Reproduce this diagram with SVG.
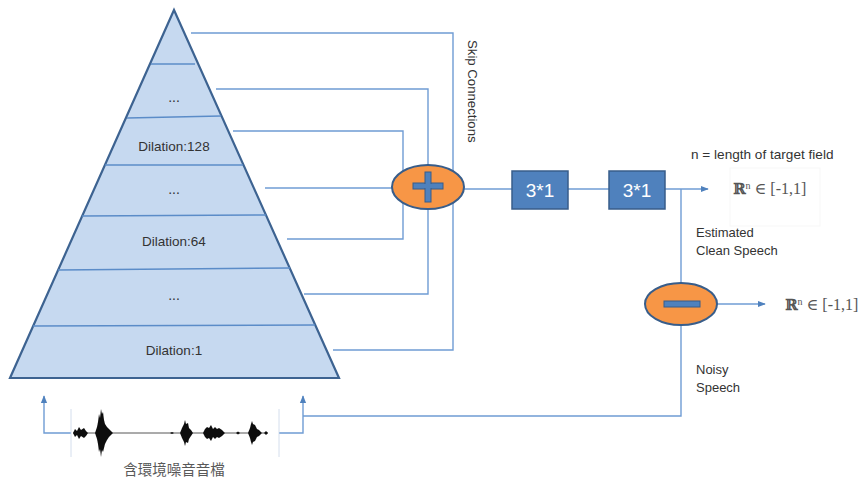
<svg xmlns="http://www.w3.org/2000/svg" width="865" height="479" viewBox="0 0 865 479">
<style>
.conn{fill:none;stroke:#6f9cd4;stroke-width:1.4}
.div{stroke:#5b8cc8;stroke-width:1.5}
.lbl{font-family:"Liberation Sans","DejaVu Sans",sans-serif;fill:#333333}
.box{fill:#4f81bd;stroke:#385d8a;stroke-width:1.5}
.boxt{font-family:"Liberation Sans",sans-serif;font-size:19px;fill:#ffffff;text-anchor:middle}
.op{fill:#f79646;stroke:#385d8a;stroke-width:2}
.opbar{fill:#4f81bd;stroke:#385d8a;stroke-width:1}
.math{font-family:"Liberation Serif","DejaVu Serif",serif;font-size:16px;fill:#555555}
.bb{font-family:"DejaVu Serif",serif;font-weight:bold;font-size:15px}
</style>
<defs>
<marker id="ah" viewBox="0 0 10 10" refX="9" refY="5" markerWidth="8" markerHeight="8" markerUnits="userSpaceOnUse" orient="auto">
<path d="M0,1 L10,5 L0,9 Z" fill="#4f81bd"/>
</marker>
<filter id="soft"><feGaussianBlur stdDeviation="0.5"/></filter>
</defs>
<rect width="865" height="479" fill="#ffffff"/>

<g id="connectors">
<polyline class="conn" points="191,33 453,33 453,350 333,350"/>
<polyline class="conn" points="216,89 428,89 428,180"/>
<polyline class="conn" points="428,200 428,294 304,294"/>
<polyline class="conn" points="233,131 403,131 403,180"/>
<polyline class="conn" points="403,200 403,239 287,239"/>
<polyline class="conn" points="265,188 400,188"/>
<line class="conn" x1="464" y1="189" x2="512" y2="189"/>
<line class="conn" x1="568" y1="189" x2="609" y2="189"/>
<line class="conn" x1="665" y1="189" x2="708" y2="189" marker-end="url(#ah)"/>
<line class="conn" x1="681" y1="189" x2="681" y2="284"/>
<line class="conn" x1="717" y1="304" x2="765" y2="304" marker-end="url(#ah)"/>
<polyline class="conn" points="681,325 681,416 303,416"/>
<polyline class="conn" points="279,433 303,433 303,396" marker-end="url(#ah)"/>
<polyline class="conn" points="71,433 44,433 44,396" marker-end="url(#ah)"/>
</g>

<g id="pyramid">
<polygon points="174,10 339,378 10,378" fill="#c6d9f0" stroke="#3d6391" stroke-width="2.2" stroke-linejoin="miter"/>
<line class="div" x1="151" y1="64" x2="195" y2="64"/>
<line class="div" x1="127" y1="118" x2="221" y2="116"/>
<line class="div" x1="105" y1="165" x2="243" y2="165"/>
<line class="div" x1="82" y1="216" x2="266" y2="215"/>
<line class="div" x1="58" y1="270" x2="290" y2="268"/>
<line class="div" x1="33" y1="326" x2="315" y2="325"/>
<text class="lbl" x="174" y="102" font-size="14" text-anchor="middle">...</text>
<text class="lbl" x="174" y="151" font-size="13.5" text-anchor="middle">Dilation:128</text>
<text class="lbl" x="174" y="194" font-size="14" text-anchor="middle">...</text>
<text class="lbl" x="174" y="246" font-size="13.5" text-anchor="middle">Dilation:64</text>
<text class="lbl" x="174" y="300" font-size="14" text-anchor="middle">...</text>
<text class="lbl" x="174" y="355" font-size="13.5" text-anchor="middle">Dilation:1</text>
</g>

<g id="skip-label">
<text class="lbl" x="468" y="40" font-size="13.2" transform="rotate(90 468 40)">Skip Connections</text>
</g>

<g id="sum">
<ellipse class="op" cx="428" cy="187" rx="36" ry="22"/>
<rect class="opbar" x="413" y="183" width="30" height="6"/>
<rect class="opbar" x="425" y="172" width="6" height="30"/>
<rect x="414" y="184" width="28" height="4" fill="#4f81bd"/>
</g>

<g id="conv1">
<rect class="box" x="512" y="171" width="56" height="38"/>
<text class="boxt" x="540" y="197">3*1</text>
</g>
<g id="conv2">
<rect class="box" x="609" y="171" width="56" height="38"/>
<text class="boxt" x="637" y="197">3*1</text>
</g>

<g id="target-label">
<text class="lbl" x="691" y="159" font-size="13.6">n = length of target field</text>
</g>
<g id="output-clean">
<rect x="730" y="168" width="90" height="58" fill="none" stroke="#f7f7f7" stroke-width="1"/>
<text class="math" x="733" y="194"><tspan class="bb">ℝ</tspan><tspan font-size="10" dy="-5">n</tspan><tspan dy="5"> ∈ [-1,1]</tspan></text>
</g>
<g id="clean-label">
<text class="lbl" x="696" y="237" font-size="13">Estimated</text>
<text class="lbl" x="696" y="255" font-size="13">Clean Speech</text>
</g>

<g id="subtract">
<ellipse class="op" cx="681" cy="304" rx="36" ry="21"/>
<rect class="opbar" x="664" y="301" width="36" height="6"/>
</g>
<g id="output-noise">
<text class="math" x="785" y="310"><tspan class="bb">ℝ</tspan><tspan font-size="10" dy="-5">n</tspan><tspan dy="5"> ∈ [-1,1]</tspan></text>
</g>
<g id="noisy-label">
<text class="lbl" x="696" y="374" font-size="13">Noisy</text>
<text class="lbl" x="696" y="392" font-size="13">Speech</text>
</g>

<g id="waveform">
<line x1="71" y1="409" x2="71" y2="457" stroke="#c9d6e8" stroke-width="0.8"/>
<line x1="279" y1="409" x2="279" y2="457" stroke="#c9d6e8" stroke-width="0.8"/>
<line x1="73" y1="433" x2="268" y2="433" stroke="#444" stroke-width="0.9"/>
<g fill="#111" filter="url(#soft)">
<path d="M73,433 L75,429 L77,431 L79,427 L81,430 L84,428 L86,431 L88,433 L86,436 L84,438 L81,436 L79,439 L77,435 L75,437 Z"/>
<path d="M95,433 L97,427 L98,422 L99,414 L100,418 L101,409 L102,414 L103,412 L104,420 L105,424 L107,427 L109,429 L113,433 L109,437 L107,440 L105,444 L104,448 L103,452 L102,450 L101,457 L100,449 L99,452 L98,444 L97,439 Z"/>
<path d="M180,433 L182,428 L184,424 L185,420 L186,424 L188,423 L189,428 L191,430 L193,433 L191,436 L189,439 L188,443 L186,442 L185,446 L184,442 L182,438 Z"/>
<path d="M203,433 L205,429 L207,427 L209,428 L211,425 L213,429 L215,427 L217,429 L219,428 L222,430 L225,433 L222,436 L219,438 L217,437 L215,439 L213,437 L211,441 L209,438 L207,439 L205,437 Z"/>
<path d="M248,433 L250,428 L251,424 L252,421 L253,424 L255,425 L257,429 L259,430 L262,433 L259,436 L257,437 L255,441 L253,442 L252,445 L251,442 L250,438 Z"/>
<path d="M264,433 L266,431 L268,433 L266,435 Z"/>
<path d="M170,433 L172,432 L174,433 L172,434 Z"/>
<path d="M236,433 L238,431.5 L240,433 L238,434.5 Z"/>
</g>
</g>
<g id="input-label">
<text x="174" y="475" font-family="'Noto Sans CJK TC','Noto Sans CJK SC',sans-serif" font-size="14.5" fill="#595959" text-anchor="middle">含環境噪音音檔</text>
</g>
</svg>
